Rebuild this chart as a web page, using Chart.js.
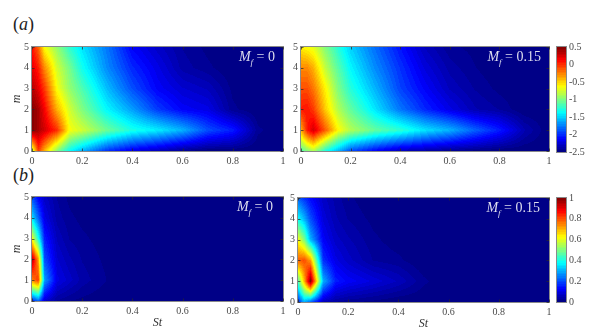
<!DOCTYPE html>
<html>
<head>
<meta charset="utf-8">
<script src="https://cdn.jsdelivr.net/npm/chart.js@4"></script>
<style>
  body { margin: 0; background: #fff; width: 598px; height: 332px; overflow: hidden; position: relative; }
  canvas { position: absolute; }
  .lbl { position: absolute; font-family: "Liberation Serif", serif; white-space: nowrap; line-height: 1; }
  .panel { font-size: 18px; color: #222; }
  .mf { font-size: 14px; color: #dde; }
  .mf sub { font-size: 9px; line-height: 0; }
</style>
</head>
<body>
<div class="lbl panel" style="left:13px;top:15px">(<i>a</i>)</div>
<div class="lbl panel" style="left:13px;top:166px">(<i>b</i>)</div>
<script>
const stGrid = [0, 0.025, 0.05, 0.1, 0.15, 0.2, 0.3, 0.4, 0.5, 0.6, 0.7, 0.8, 0.9, 1];
const mGrid = [0, 1, 2, 3, 4, 5];

const stTicks = [0, 0.2, 0.4, 0.6, 0.8, 1];
const mTicks = [0, 1, 2, 3, 4, 5];
const barTicksA = [-2.5, -2, -1.5, -1, -0.5, 0, 0.5];
const barTicksB = [0, 0.2, 0.4, 0.6, 0.8, 1];

// one row per m value
const valuesA0 = [
  [-0.85, -0.04, -0.4, -1.0, -1.36, -1.6, -1.99, -2.2, -2.32, -2.44, -2.5, -2.5, -2.5, -2.5],
  [0.5, 0.38, 0.26, -0.01, -0.64, -0.76, -1.06, -1.3, -1.42, -1.6, -1.9, -2.05, -2.44, -2.5],
  [0.5, 0.38, 0.14, -0.4, -0.76, -1, -1.39, -1.66, -1.96, -2.14, -2.2, -2.44, -2.5, -2.5],
  [0.35, 0.2, -0.04, -0.64, -0.94, -1.15, -1.57, -1.9, -2.14, -2.26, -2.32, -2.47, -2.5, -2.5],
  [0.2, 0.05, -0.28, -0.76, -1.03, -1.33, -1.72, -2.02, -2.2, -2.38, -2.44, -2.5, -2.5, -2.5],
  [0.08, -0.16, -0.64, -0.94, -1.24, -1.45, -1.78, -2.14, -2.29, -2.41, -2.47, -2.5, -2.5, -2.5]
];
const valuesA15 = [
  [-1.15, -1, -0.85, -1.3, -1.6, -1.9, -2.14, -2.32, -2.38, -2.44, -2.47, -2.5, -2.5, -2.5],
  [-0.4, 0.05, 0.26, -0.16, -0.61, -0.85, -1.09, -1.24, -1.45, -1.6, -1.84, -2.05, -2.35, -2.5],
  [0.05, 0.08, -0.04, -0.49, -0.85, -1.09, -1.45, -1.78, -2.02, -2.2, -2.35, -2.41, -2.5, -2.5],
  [-0.1, -0.1, -0.22, -0.61, -1, -1.27, -1.6, -1.93, -2.14, -2.32, -2.41, -2.47, -2.5, -2.5],
  [-0.28, -0.28, -0.4, -0.82, -1.12, -1.39, -1.72, -1.99, -2.23, -2.38, -2.45, -2.5, -2.5, -2.5],
  [-0.58, -0.64, -0.7, -1, -1.27, -1.51, -1.81, -2.08, -2.32, -2.44, -2.47, -2.5, -2.5, -2.5]
];
const valuesB0 = [
  [0.15, 0.22, 0.08, 0.03, 0.015, 0.01, 0, 0, 0, 0, 0, 0, 0, 0],
  [0.75, 0.82, 0.28, 0.1, 0.07, 0.04, 0.015, 0, 0, 0, 0, 0, 0, 0],
  [0.95, 0.72, 0.2, 0.08, 0.05, 0.03, 0.01, 0, 0, 0, 0, 0, 0, 0],
  [0.62, 0.4, 0.15, 0.06, 0.03, 0.02, 0.005, 0, 0, 0, 0, 0, 0, 0],
  [0.35, 0.22, 0.1, 0.04, 0.02, 0.01, 0, 0, 0, 0, 0, 0, 0, 0],
  [0.2, 0.12, 0.07, 0.03, 0.01, 0, 0, 0, 0, 0, 0, 0, 0, 0]
];
const valuesB15 = [
  [0.15, 0.3, 0.22, 0.06, 0.03, 0.02, 0.01, 0, 0, 0, 0, 0, 0, 0],
  [0.45, 0.7, 1, 0.3, 0.15, 0.12, 0.09, 0.06, 0.02, 0, 0, 0, 0, 0],
  [0.78, 0.8, 0.72, 0.17, 0.1, 0.07, 0.03, 0.02, 0, 0, 0, 0, 0, 0],
  [0.62, 0.5, 0.3, 0.12, 0.07, 0.05, 0.02, 0.005, 0, 0, 0, 0, 0, 0],
  [0.38, 0.3, 0.2, 0.09, 0.05, 0.03, 0.01, 0, 0, 0, 0, 0, 0, 0],
  [0.22, 0.17, 0.13, 0.07, 0.04, 0.02, 0, 0, 0, 0, 0, 0, 0, 0]
];

const serif = '"Liberation Serif", serif';
const tickColor = '#4a4a4a';

function jet(t) {
  t = Math.min(1, Math.max(0, t));
  t = (Math.floor(t * 63.999) + 0.5) / 64; // 64 level map
  const ch = c => 255 * Math.min(1, Math.max(0, 1.5 - Math.abs(4 * t - c)));
  return [ch(3), ch(2), ch(1)];
}

function findCell(grid, v) {
  let i = 0;
  while (i < grid.length - 2 && v > grid[i + 1]) i++;
  return [i, (v - grid[i]) / (grid[i + 1] - grid[i])];
}

function sample(values, st, m) {
  const [i, fx] = findCell(stGrid, st);
  const [j, fy] = findCell(mGrid, m);
  const low = values[j][i] * (1 - fx) + values[j][i + 1] * fx;
  const high = values[j + 1][i] * (1 - fx) + values[j + 1][i + 1] * fx;
  return low * (1 - fy) + high * fy;
}

function paint(chart, valueAt, vmin, vmax) {
  const area = chart.chartArea;
  const w = Math.round(area.right - area.left);
  const h = Math.round(area.bottom - area.top);
  const img = chart.ctx.createImageData(w, h);
  for (let py = 0; py < h; py++) {
    for (let px = 0; px < w; px++) {
      const v = valueAt(area.left + px + 0.5, area.top + py + 0.5);
      const c = jet((v - vmin) / (vmax - vmin));
      const k = (py * w + px) * 4;
      img.data[k] = c[0];
      img.data[k + 1] = c[1];
      img.data[k + 2] = c[2];
      img.data[k + 3] = 255;
    }
  }
  chart.ctx.putImageData(img, Math.round(area.left), Math.round(area.top));
}

function frame(chart, inner) {
  const { ctx, chartArea: a, scales } = chart;
  ctx.save();
  ctx.strokeStyle = '#8a8a8a';
  ctx.lineWidth = 1;
  ctx.strokeRect(a.left - 0.5, a.top - 0.5, a.right - a.left + 1, a.bottom - a.top + 1);
  if (inner) {
    ctx.strokeStyle = 'rgba(40,40,40,0.7)';
    ctx.beginPath();
    scales.x.ticks.forEach(t => {
      const x = Math.round(scales.x.getPixelForValue(t.value)) + 0.5;
      ctx.moveTo(x, a.top); ctx.lineTo(x, a.top + 2.5);
      ctx.moveTo(x, a.bottom); ctx.lineTo(x, a.bottom - 2.5);
    });
    scales.y.ticks.forEach(t => {
      const y = Math.round(scales.y.getPixelForValue(t.value)) + 0.5;
      ctx.moveTo(a.left, y); ctx.lineTo(a.left + 2.5, y);
      ctx.moveTo(a.right, y); ctx.lineTo(a.right - 2.5, y);
    });
    ctx.stroke();
  }
  ctx.restore();
}

function addCanvas(left, top, width, height) {
  const c = document.createElement('canvas');
  c.width = width;
  c.height = height;
  c.style.left = left + 'px';
  c.style.top = top + 'px';
  document.body.appendChild(c);
  return c;
}

function axisFont(size, italic) {
  return { family: serif, size: size, style: italic ? 'italic' : 'normal' };
}

// the tick labels would otherwise push the plot area in
function noLabelPadding(s) {
  s.paddingLeft = s.paddingRight = s.paddingTop = s.paddingBottom = 0;
}

function makePanel(p) {
  const leftRoom = 32, bottomRoom = 29, topRoom = 6, rightRoom = 10;
  const canvas = addCanvas(p.left - leftRoom, p.top - topRoom, p.width + leftRoom + rightRoom, p.height + topRoom + bottomRoom);
  const points = [];
  mGrid.forEach((m, j) => stGrid.forEach((st, i) => points.push({ x: st, y: m, v: p.values[j][i] })));

  new Chart(canvas, {
    type: 'scatter',
    data: { datasets: [{ data: points, pointRadius: 0 }] },
    options: {
      responsive: false,
      animation: false,
      layout: { autoPadding: false, padding: { top: topRoom, right: rightRoom } },
      plugins: { legend: { display: false }, tooltip: { enabled: false } },
      scales: {
        x: {
          type: 'linear', min: 0, max: 1,
          afterBuildTicks: s => { s.ticks = stTicks.map(v => ({ value: v })); },
          afterFit: s => { s.height = bottomRoom; noLabelPadding(s); },
          grid: { display: false, drawTicks: false },
          border: { display: false },
          ticks: { color: tickColor, font: axisFont(10), padding: 4, maxRotation: 0, autoSkip: false, callback: v => String(v) },
          title: { display: !!p.xTitle, text: 'St', color: '#333', font: axisFont(12, true), padding: 0 }
        },
        y: {
          type: 'linear', min: 0, max: 5,
          afterBuildTicks: s => { s.ticks = mTicks.map(v => ({ value: v })); },
          afterFit: s => { s.width = leftRoom; noLabelPadding(s); },
          grid: { display: false, drawTicks: false },
          border: { display: false },
          ticks: { color: tickColor, font: axisFont(10), padding: 3, autoSkip: false, callback: v => String(v) },
          title: { display: !!p.yTitle, text: 'm', color: '#333', font: axisFont(12, true), padding: { top: 10, bottom: 0 } }
        }
      }
    },
    plugins: [{
      id: 'heat',
      beforeDatasetsDraw(chart) {
        const { x, y } = chart.scales;
        paint(chart, (px, py) => sample(p.values, x.getValueForPixel(px), y.getValueForPixel(py)), p.vmin, p.vmax);
      },
      afterDraw(chart) { frame(chart, true); }
    }]
  });

  const tag = document.createElement('div');
  tag.className = 'lbl mf';
  tag.style.right = (598 - p.left - p.width + p.tagRight) + 'px';
  tag.style.top = (p.top + 3) + 'px';
  tag.innerHTML = '<i>M<sub>f</sub></i> = ' + p.tag;
  document.body.appendChild(tag);
}

function makeBar(top, height, ticks) {
  const canvas = addCanvas(557 - 2, top - 6, 598 - 555, height + 12);
  new Chart(canvas, {
    type: 'scatter',
    data: { datasets: [] },
    options: {
      responsive: false,
      animation: false,
      layout: { autoPadding: false, padding: { top: 6, bottom: 6, left: 2 } },
      plugins: { legend: { display: false }, tooltip: { enabled: false } },
      scales: {
        x: { display: false, min: 0, max: 1 },
        y: {
          type: 'linear', position: 'right', min: ticks[0], max: ticks[ticks.length - 1],
          afterBuildTicks: s => { s.ticks = ticks.map(v => ({ value: v })); },
          afterFit: s => { s.width = 598 - 566; noLabelPadding(s); },
          grid: { display: false, drawTicks: false },
          border: { display: false },
          ticks: { color: tickColor, font: axisFont(10), padding: 3, autoSkip: false, callback: v => String(v) }
        }
      }
    },
    plugins: [{
      id: 'bar',
      beforeDatasetsDraw(chart) {
        paint(chart, (px, py) => chart.scales.y.getValueForPixel(py), ticks[0], ticks[ticks.length - 1]);
      },
      afterDraw(chart) { frame(chart, false); }
    }]
  });
}

makePanel({ left: 32, top: 47, width: 251, height: 104, values: valuesA0, vmin: -2.5, vmax: 0.5, tag: '0', tagRight: 8, yTitle: true });
makePanel({ left: 301, top: 47, width: 248, height: 104, values: valuesA15, vmin: -2.5, vmax: 0.5, tag: '0.15', tagRight: 8 });
makePanel({ left: 32, top: 197, width: 251, height: 104, values: valuesB0, vmin: 0, vmax: 1, tag: '0', tagRight: 10, yTitle: true, xTitle: true });
makePanel({ left: 298, top: 198, width: 251, height: 104, values: valuesB15, vmin: 0, vmax: 1, tag: '0.15', tagRight: 9, xTitle: true });
makeBar(47, 105, barTicksA);
makeBar(198, 104, barTicksB);
</script>
</body>
</html>
